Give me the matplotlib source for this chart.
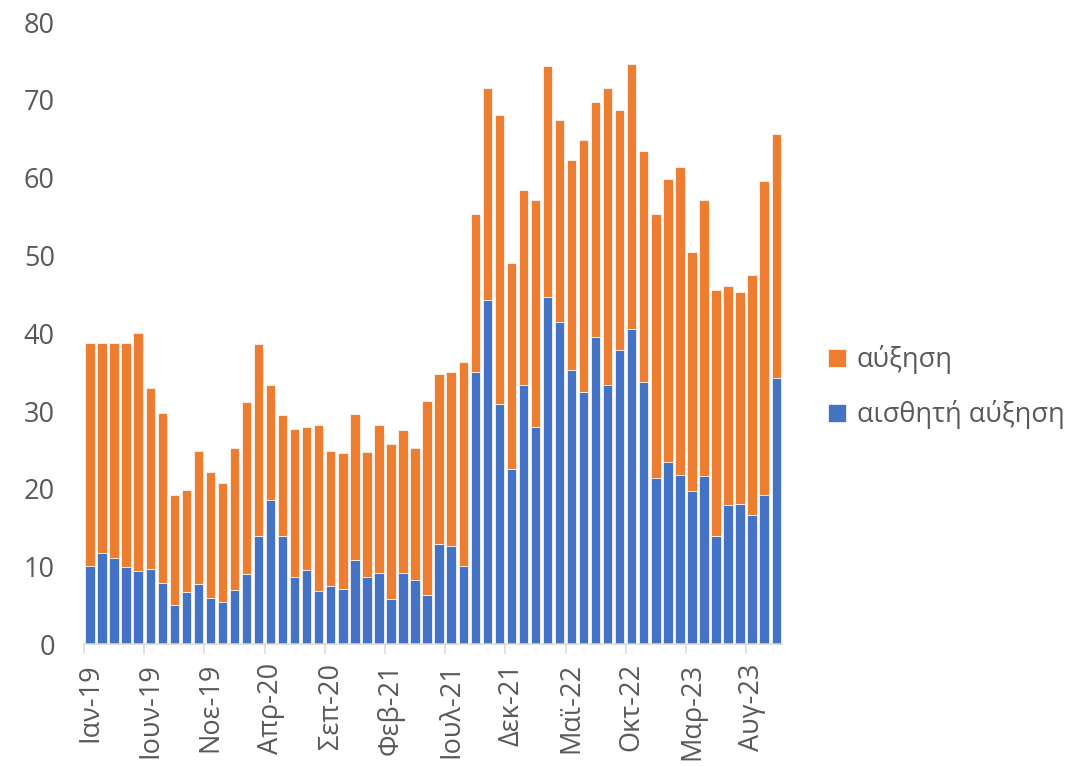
import numpy as np
import matplotlib
matplotlib.use('Agg')
import matplotlib.pyplot as plt

plt.rcParams['font.family'] = ['Open Sans', 'DejaVu Sans']

# monthly data, Ιαν-19 .. Οκτ-23
aisthiti = [10.1, 11.8, 11.1, 9.9, 9.4, 9.7, 7.9, 5.1, 6.7, 7.7,
            5.9, 5.4, 7.0, 9.0, 13.9, 18.5, 13.9, 8.6, 9.5, 6.9,
            7.5, 7.1, 10.8, 8.6, 9.2, 5.8, 9.2, 8.3, 6.4, 12.9,
            12.6, 10.1, 35.0, 44.3, 30.9, 22.5, 33.4, 28.0, 44.6, 41.4,
            35.3, 32.4, 39.5, 33.3, 37.9, 40.5, 33.7, 21.4, 23.5, 21.8,
            19.7, 21.7, 13.9, 17.9, 18.0, 16.6, 19.2, 34.3]
synolo = [38.8, 38.8, 38.8, 38.8, 40.0, 32.9, 29.8, 19.2, 19.8, 24.9,
          22.1, 20.8, 25.2, 31.1, 38.6, 33.4, 29.5, 27.7, 28.0, 28.2,
          24.8, 24.6, 29.6, 24.7, 28.2, 25.7, 27.6, 25.3, 31.3, 34.7,
          35.0, 36.3, 55.4, 71.6, 68.1, 49.0, 58.4, 57.1, 74.4, 67.4,
          62.3, 64.8, 69.7, 71.5, 68.7, 74.6, 63.5, 55.4, 59.8, 61.4,
          50.5, 57.2, 45.5, 46.1, 45.3, 47.5, 59.6, 65.6]
tick_labels = ['Ιαν-19', 'Ιουν-19', 'Νοε-19', 'Απρ-20', 'Σεπ-20', 'Φεβ-21',
               'Ιουλ-21', 'Δεκ-21', 'Μαϊ-22', 'Οκτ-22', 'Μαρ-23', 'Αυγ-23']

blue = np.array(aisthiti)
orange = np.array(synolo) - blue
x = np.arange(len(blue))

fs = 19.5
fig = plt.figure(figsize=(10.91, 7.67), dpi=100)
ax = fig.add_axes([0.077, 0.160, 0.640, 0.811])

ax.bar(x, blue, width=0.78, color='#4472C4', edgecolor='white', linewidth=0.5,
       label='αισθητή αύξηση', zorder=2)
ax.bar(x, orange, width=0.78, bottom=blue, color='#ED7D31', edgecolor='white',
       linewidth=0.5, label='αύξηση', zorder=2)

ax.set_xlim(-0.5, len(x) - 0.5)
ax.set_ylim(0, 80)
ax.set_yticks(np.arange(0, 81, 10))

# labels on bar centres, tick marks on month boundaries
ax.set_xticks(x[::5])
ax.set_xticklabels(tick_labels, rotation=90, va='top', ha='center')
ax.set_xticks(x[::5] - 0.5, minor=True)
ax.tick_params(axis='x', which='major', length=0, pad=13.5, labelsize=fs, colors='#595959')
ax.tick_params(axis='x', which='minor', length=7.2, width=1.1, color='#d9d9d9')
ax.tick_params(axis='y', length=0, pad=21, labelsize=fs, colors='#595959')

for s in ['top', 'right', 'left']:
    ax.spines[s].set_visible(False)
ax.spines['bottom'].set_color('#d9d9d9')
ax.spines['bottom'].set_linewidth(1.1)

handles, labels = ax.get_legend_handles_labels()
fig.legend(handles[::-1], labels[::-1], loc='center left', bbox_to_anchor=(0.759, 0.495),
           frameon=False, fontsize=fs, labelcolor='#595959', handlelength=0.65,
           handleheight=0.65, handletextpad=0.4, labelspacing=0.95, borderpad=0,
           borderaxespad=0)

plt.savefig('out.png', dpi=100)
